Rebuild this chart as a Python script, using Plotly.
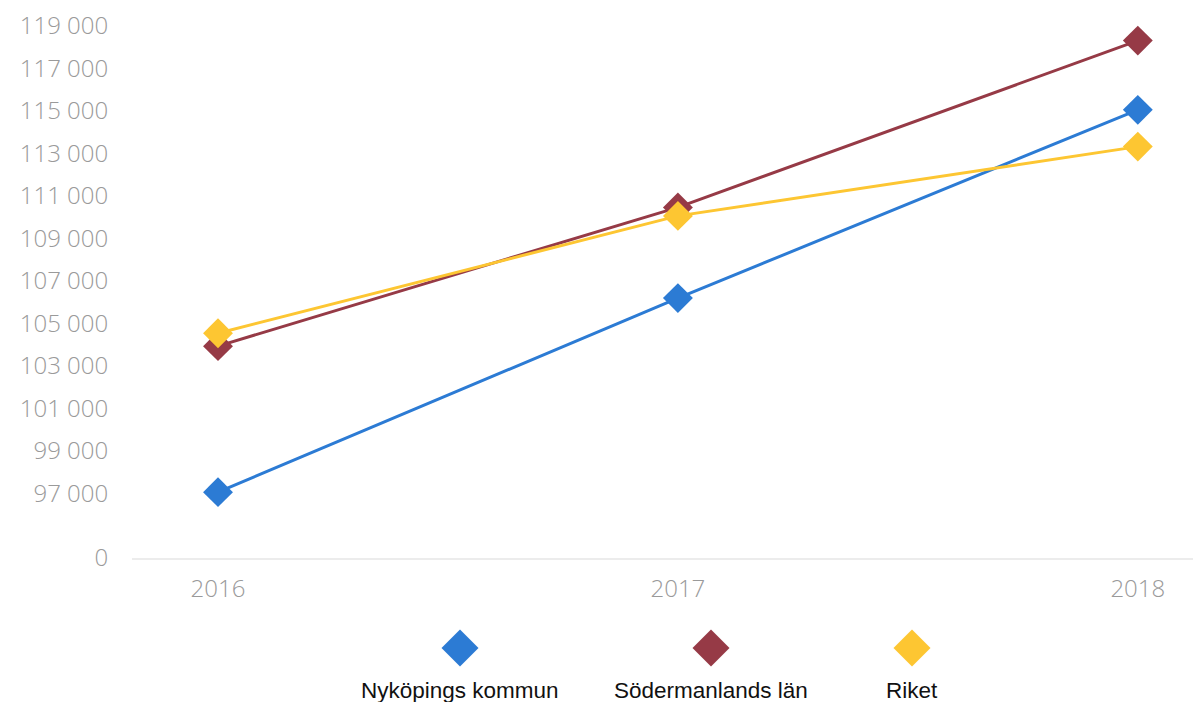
import plotly.graph_objects as go

years = [2016, 2017, 2018]
nykoping = [97050, 106180, 115040]
sodermanland = [103920, 110450, 118300]
riket = [104530, 110050, 113310]

series_names = ["Nyköpings kommun", "Södermanlands län", "Riket"]
series_colors = ["#2C7BD4", "#963A46", "#FDC632"]

y_tick_values = [97000, 99000, 101000, 103000, 105000, 107000, 109000,
                 111000, 113000, 115000, 117000, 119000]
y_zero_position = 93950  # axis break: "0" is drawn at this position

fig = go.Figure()
for name, vals, col in zip(series_names, [nykoping, sodermanland, riket], series_colors):
    fig.add_trace(go.Scatter(
        x=years, y=vals, name=name, mode="lines+markers",
        line=dict(color=col, width=3),
        marker=dict(symbol="diamond", size=23, color=col),
        showlegend=False,
    ))

L, R, T, B = 132, 8, 8, 144
W, H = 1201, 702
plot_w = W - L - R
plot_h = H - T - B

tickvals = [y_zero_position] + y_tick_values
ticktext = ["0"] + [f"{v:,}".replace(",", " ") for v in y_tick_values]

tick_font = dict(family="Open Sans, sans-serif", size=24, color="#9a9a9a", weight=300)

fig.update_layout(
    width=W, height=H,
    margin=dict(l=L, r=R, t=T, b=B),
    paper_bgcolor="white", plot_bgcolor="white",
    xaxis=dict(
        range=[2015.813, 2018.12],
        tickvals=years, ticktext=[str(y) for y in years],
        showgrid=False, zeroline=False,
        showline=True, linecolor="#ececec", linewidth=1.5,
        ticks="outside", ticklen=8, tickcolor="rgba(0,0,0,0)",
        tickfont=tick_font,
    ),
    yaxis=dict(
        range=[y_zero_position, 119833],
        tickvals=tickvals, ticktext=ticktext,
        showgrid=False, zeroline=False, showline=False,
        ticks="outside", ticklen=18, tickcolor="rgba(0,0,0,0)",
        tickfont=tick_font,
    ),
)

# Custom legend: diamond marker above label, centered
legend_px = [460, 711, 912]
marker_y = 648
label_y = 690
half = 18.5
for name, col, px in zip(series_names, series_colors, legend_px):
    xp = (px - L) / plot_w
    yp_marker = (H - B - marker_y) / plot_h
    yp_label = (H - B - label_y) / plot_h
    fig.add_shape(
        type="path", xref="paper", yref="paper",
        xsizemode="pixel", ysizemode="pixel",
        xanchor=xp, yanchor=yp_marker,
        path=f"M 0 {half} L {half} 0 L 0 {-half} L {-half} 0 Z",
        fillcolor=col, line=dict(width=0),
    )
    fig.add_annotation(
        x=xp, y=yp_label, xref="paper", yref="paper",
        text=name, showarrow=False, xanchor="center", yanchor="middle",
        font=dict(family="Liberation Sans, Arial, sans-serif", size=22.5, color="#111111"),
    )

fig.write_html("out.html", config={"displayModeBar": False},
               post_script="document.body.style.margin='0';document.body.style.overflow='hidden';")
